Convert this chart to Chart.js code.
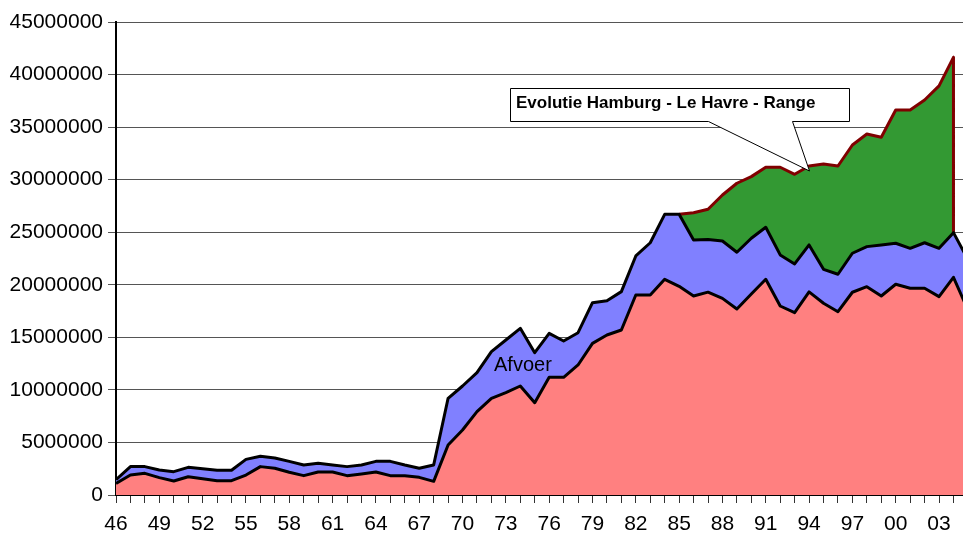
<!DOCTYPE html>
<html><head><meta charset="utf-8">
<script src="https://cdn.jsdelivr.net/npm/chart.js@4/dist/chart.umd.min.js"></script>
<style>html,body{margin:0;padding:0;background:#fff;overflow:hidden}canvas{display:block}</style>
</head><body><canvas id="c" width="963" height="535"></canvas>
<script>
const years = [1946,1947,1948,1949,1950,1951,1952,1953,1954,1955,
  1956,1957,1958,1959,1960,1961,1962,1963,1964,1965,
  1966,1967,1968,1969,1970,1971,1972,1973,1974,1975,
  1976,1977,1978,1979,1980,1981,1982,1983,1984,1985,
  1986,1987,1988,1989,1990,1991,1992,1993,1994,1995,
  1996,1997,1998,1999,2000,2001,2002,2003,2004,2005];
const aanvoer = [1100000,1900000,2060000,1650000,1330000,1740000,1550000,1360000,1360000,1900000,
  2700000,2540000,2160000,1840000,2190000,2190000,1840000,2000000,2190000,1840000,
  1840000,1680000,1300000,4760000,6180000,7930000,9200000,9740000,10370000,8780000,
  11200000,11200000,12370000,14430000,15220000,15700000,19030000,19030000,20520000,19850000,
  18930000,19300000,18710000,17700000,19120000,20520000,17980000,17350000,19320000,18240000,
  17440000,19290000,19820000,18930000,20050000,19670000,19670000,18870000,20710000,17600000];
const afvoer = [350000,800000,640000,730000,890000,890000,950000,990000,990000,1490000,
  980000,980000,1040000,1010000,820000,660000,860000,850000,1010000,1360000,
  1010000,860000,1550000,4440000,4190000,3710000,4440000,5010000,5490000,4760000,
  4180000,3450000,3070000,3870000,3270000,3650000,3710000,4970000,6180000,6850000,
  5330000,5000000,5460000,5390000,5310000,4950000,4860000,4630000,4470000,3230000,
  3560000,3710000,3810000,4860000,3900000,3800000,4330000,4600000,4250000,4800000];
const rangeTotaal = [null,null,null,null,null,null,null,null,null,null,
  null,null,null,null,null,null,null,null,null,null,
  null,null,null,null,null,null,null,null,null,null,
  null,null,null,null,null,null,null,null,null,26700000,
  26860000,27180000,28540000,29660000,30290000,31180000,31180000,30510000,31300000,31490000,
  31300000,33300000,34350000,34030000,36630000,36630000,37580000,38920000,41640000,null];
const yTickValues = [0,5000000,10000000,15000000,20000000,25000000,30000000,35000000,40000000,45000000];
const calloutText = 'Evolutie Hamburg - Le Havre - Range';
const areaLabel = 'Afvoer';

const FONT = '"Liberation Sans", Arial, sans-serif';

const redPts = years.map((x, i) => ({x, y: aanvoer[i]}));
const bluePts = years.map((x, i) => ({x, y: aanvoer[i] + afvoer[i]}));
const greenPts = [];
let lastIdx = -1;
years.forEach((x, i) => { if (rangeTotaal[i] !== null) { greenPts.push({x, y: rangeTotaal[i]}); lastIdx = i; } });
// closing edge of the range area down to the top of the stacked series
greenPts.push({x: years[lastIdx], y: aanvoer[lastIdx] + afvoer[lastIdx]});

const annot = {
  id: 'annot',
  afterDraw(chart) {
    const ctx = chart.ctx;
    ctx.save();
    const L = 510.5, R = 849.5, T = 88.5, B = 121.5;
    ctx.beginPath();
    ctx.moveTo(L, T); ctx.lineTo(R, T); ctx.lineTo(R, B);
    ctx.lineTo(792.5, B); ctx.lineTo(809.5, 171); ctx.lineTo(708.5, B);
    ctx.lineTo(L, B); ctx.closePath();
    ctx.fillStyle = '#fff'; ctx.fill();
    ctx.strokeStyle = '#000'; ctx.lineWidth = 1; ctx.stroke();
    ctx.fillStyle = '#000';
    ctx.font = 'bold 17px ' + FONT;
    ctx.textBaseline = 'alphabetic';
    ctx.textAlign = 'left';
    ctx.fillText(calloutText, 516, 108);
    ctx.font = '20px ' + FONT;
    ctx.fillText(areaLabel, 494, 371);
    ctx.restore();
  }
};

new Chart(document.getElementById('c'), {
  type: 'line',
  data: {
    datasets: [
      {data: redPts, borderColor: '#000', backgroundColor: '#FF8080', borderWidth: 3, fill: 'origin'},
      {data: bluePts, borderColor: '#000', backgroundColor: '#8080FF', borderWidth: 3, fill: 'origin'},
      {data: greenPts, borderColor: '#800000', backgroundColor: '#339933', borderWidth: 3, fill: 'origin'}
    ]
  },
  options: {
    responsive: false,
    animation: false,
    events: [],
    layout: {padding: {top: 22, right: 0, bottom: 0, left: 0}},
    elements: {
      point: {radius: 0, hoverRadius: 0},
      line: {tension: 0, borderJoinStyle: 'round', borderCapStyle: 'butt'}
    },
    plugins: {legend: {display: false}, tooltip: {enabled: false}, title: {display: false}},
    scales: {
      x: {
        type: 'linear', min: 1946, max: 2004.66,
        afterFit(s) { s.height = 40; },
        ticks: {
          stepSize: 1, autoSkip: false, maxRotation: 0, minRotation: 0, includeBounds: false,
          padding: 9, color: '#000', font: {family: FONT, size: 21},
          callback(v) { return ((v - 1946) % 3 === 0) ? String(v % 100).padStart(2, '0') : ''; }
        },
        grid: {drawOnChartArea: false, drawTicks: true, tickLength: 8, color: '#000', tickColor: '#333'},
        border: {color: '#000', width: 2}
      },
      y: {
        min: 0, max: 45000000,
        afterFit(s) { s.width = 116; },
        afterBuildTicks(s) { s.ticks = yTickValues.map(v => ({value: v})); },
        ticks: {
          padding: 5, color: '#000', font: {family: FONT, size: 21},
          callback(v) { return String(v); }
        },
        grid: {color: '#555', lineWidth: 1, tickLength: 8, tickColor: '#555'},
        border: {color: '#000', width: 2}
      }
    }
  },
  plugins: [annot]
});
</script>
</body></html>
